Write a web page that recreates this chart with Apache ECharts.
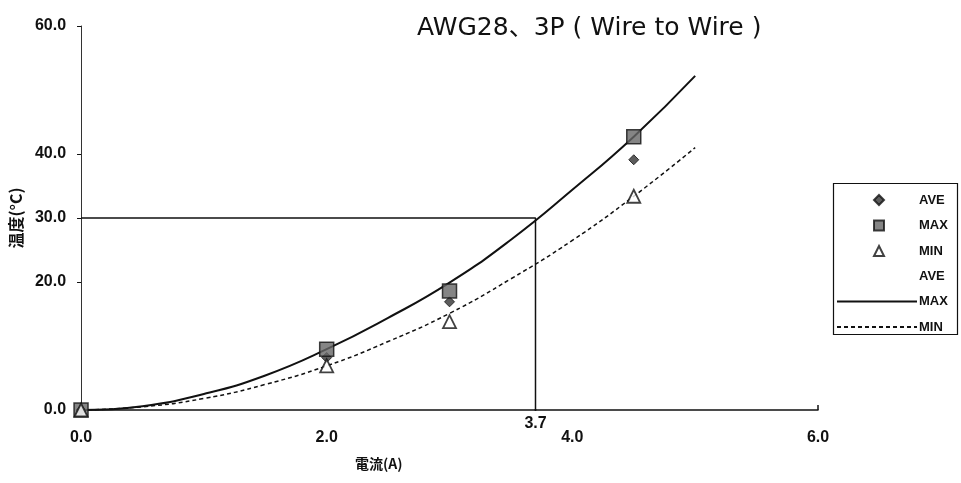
<!DOCTYPE html>
<html>
<head>
<meta charset="utf-8">
<script src="https://cdn.jsdelivr.net/npm/echarts@6/dist/echarts.min.js"></script>
<style>
  html, body { margin: 0; padding: 0; background: #fff; }
  #chart { width: 961px; height: 483px; }
</style>
</head>
<body>
<div id="chart"></div>
<script>
// measured points
const current = [0, 2.0, 3.0, 4.5];
const aveTemp = [0, 8.2, 16.9, 39.1];
const maxTemp = [0, 9.5, 18.6, 42.7];
const minTemp = [0, 6.9, 13.8, 33.4];

// trend curves
const fitX   = [0, 0.5, 1.0, 1.5, 2.0, 2.5, 3.0, 3.5, 4.0, 4.5, 5.0];
const maxFit = [0, 0.6, 2.5, 5.4, 9.5, 14.4, 19.9, 26.6, 34.4, 42.7, 52.2];
const minFit = [0, 0.5, 1.8, 4.0, 6.9, 10.7, 15.1, 20.5, 26.5, 33.4, 41.0];
const aveFit = [0, 0.55, 2.1, 4.7, 8.2, 12.5, 17.4, 23.5, 30.3, 38.0, 46.6];

// 30℃ guide line
const refX = [0, 3.7, 3.7];
const refY = [30, 30, 0];

const yTicks = [0, 20, 30, 40, 60];
const xTicks = [0, 2, 4, 6];

const pairs = (xs, ys) => xs.map((x, i) => [x, ys[i]]);

const chart = echarts.init(document.getElementById('chart'));

const labelFont = { fontFamily: 'Liberation Sans', fontWeight: 'bold', fontSize: 16, color: '#111' };
const legendText = { fontFamily: 'Liberation Sans', fontWeight: 'bold', fontSize: 13, color: '#111' };

chart.setOption({
  animation: false,
  title: {
    text: 'AWG28、3P ( Wire to Wire )',
    left: 412,
    top: 11,
    textStyle: { fontFamily: 'DejaVu Sans, Noto Sans CJK JP', fontWeight: 'normal', fontSize: 25, color: '#111' }
  },
  grid: { left: 80, right: 143, top: 26, bottom: 73 },
  legend: [
    {
      // markers
      orient: 'vertical',
      left: 873,
      top: 193.5,
      padding: 0,
      itemWidth: 10,
      itemHeight: 10,
      itemGap: 12.5,
      textStyle: Object.assign({ padding: [0, 0, 0, 30] }, legendText),
      data: ['AVE', 'MAX', 'MIN']
    },
    {
      // trend lines
      orient: 'vertical',
      left: 836,
      top: 269.5,
      padding: 0,
      itemWidth: 80,
      itemHeight: 10,
      itemGap: 12.5,
      itemStyle: { opacity: 0 },
      formatter: name => name.trim(),
      textStyle: Object.assign({ padding: [0, 0, 0, -3] }, legendText),
      data: ['AVE ', 'MAX ', 'MIN ']
    }
  ],
  xAxis: {
    type: 'value',
    min: 0,
    max: 6,
    interval: 1,
    splitLine: { show: false },
    axisLine: { lineStyle: { color: '#111', width: 1.5 } },
    axisTick: { show: true, inside: true, length: 5, customValues: [6], lineStyle: { color: '#111', width: 1.5 } },
    axisLabel: Object.assign({ margin: 20, customValues: xTicks, formatter: v => v.toFixed(1) }, labelFont)
  },
  yAxis: {
    type: 'value',
    min: 0,
    max: 60,
    interval: 10,
    name: '温度(°C)',
    nameLocation: 'middle',
    nameGap: 50,
    nameRotate: 90,
    nameTextStyle: { fontFamily: 'Noto Sans CJK JP', fontWeight: 'bold', fontSize: 16, color: '#111' },
    splitLine: { show: false },
    axisLine: { lineStyle: { color: '#333', width: 1 } },
    axisTick: { show: true, length: 4, customValues: yTicks, lineStyle: { color: '#111' } },
    axisLabel: Object.assign({ margin: 15, customValues: yTicks, formatter: v => v.toFixed(1) }, labelFont)
  },
  graphic: [
    {
      type: 'text',
      left: 355,
      top: 457,
      style: { text: '電流(A)', font: 'bold 14px "Noto Sans CJK JP"', fill: '#111' }
    },
    {
      type: 'rect',
      shape: { x: 833.5, y: 183.5, width: 124, height: 151 },
      style: { fill: 'none', stroke: '#111', lineWidth: 1.2 }
    }
  ],
  series: [
    {
      name: 'guide',
      type: 'line',
      data: pairs(refX, refY),
      symbol: 'none',
      lineStyle: { color: '#111', width: 1.5 },
      z: 1
    },
    {
      name: 'guideLabel',
      type: 'scatter',
      data: [[refX[2], refY[2]]],
      symbolSize: 2,
      itemStyle: { color: '#111', opacity: 1 },
      emphasis: { disabled: true },
      label: Object.assign({ show: true, position: 'bottom', distance: 5, opacity: 1, textBorderWidth: 0, formatter: p => p.value[0].toFixed(1) }, labelFont),
      z: 1
    },
    {
      name: 'AVE ',
      type: 'line',
      data: pairs(fitX, aveFit),
      smooth: true,
      symbol: 'none',
      lineStyle: { color: '#111', width: 1, opacity: 0 },
      itemStyle: { color: '#111' }
    },
    {
      name: 'MAX ',
      type: 'line',
      data: pairs(fitX, maxFit),
      smooth: true,
      symbol: 'none',
      lineStyle: { color: '#111', width: 2 },
      itemStyle: { color: '#111' }
    },
    {
      name: 'MIN ',
      type: 'line',
      data: pairs(fitX, minFit),
      smooth: true,
      symbol: 'none',
      lineStyle: { color: '#111', width: 1.5, type: [4, 3] },
      itemStyle: { color: '#111' }
    },
    {
      name: 'AVE',
      type: 'scatter',
      data: pairs(current, aveTemp),
      symbol: 'diamond',
      symbolSize: 10,
      itemStyle: { color: '#333', borderColor: '#111', borderWidth: 1 },
      z: 3
    },
    {
      name: 'MAX',
      type: 'scatter',
      data: pairs(current, maxTemp),
      symbol: 'rect',
      symbolSize: 14,
      itemStyle: { color: '#666', borderColor: '#111', borderWidth: 1.5 },
      z: 4
    },
    {
      name: 'MIN',
      type: 'scatter',
      data: pairs(current, minTemp),
      symbol: 'triangle',
      symbolSize: 13,
      itemStyle: { color: '#fff', borderColor: '#111', borderWidth: 1.8 },
      z: 4
    }
  ]
});
</script>
</body>
</html>
